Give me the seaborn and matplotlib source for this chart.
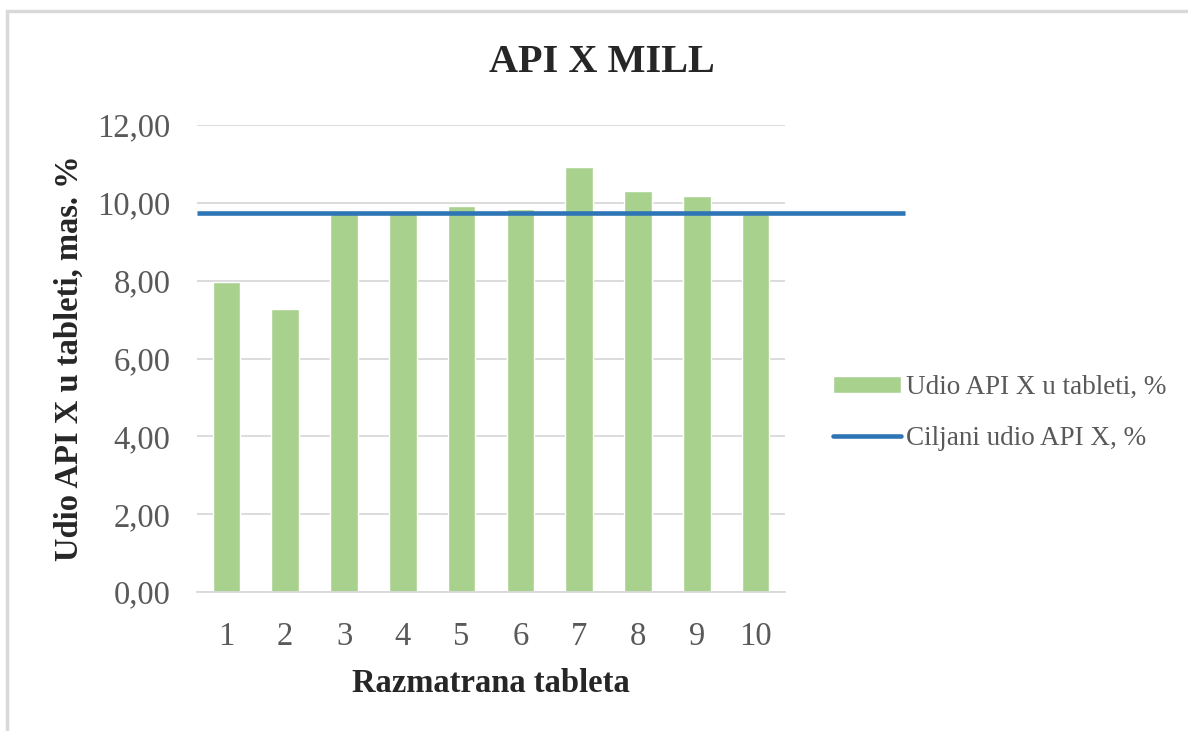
import numpy as np
import pandas as pd
import matplotlib
matplotlib.use('Agg')
import matplotlib.pyplot as plt
import seaborn as sns
from matplotlib.patches import Rectangle
from matplotlib.ticker import FuncFormatter

# data
tablets = ['1', '2', '3', '4', '5', '6', '7', '8', '9', '10']
api_content = [7.97, 7.27, 9.76, 9.74, 9.92, 9.85, 10.91, 10.30, 10.17, 9.71]
target_content = 9.73

bar_label = 'Udio API X u tableti, %'
line_label = 'Ciljani udio API X, %'

df = pd.DataFrame({'tableta': tablets, 'udio': api_content})

sns.set_style('white')
plt.rcParams['font.family'] = ['Liberation Serif', 'DejaVu Serif']

fig = plt.figure(figsize=(11.88, 7.31), dpi=100)
ax = fig.add_axes([197 / 1188, 1 - 592 / 731, 588 / 1188, 467 / 731])

sns.barplot(data=df, x='tableta', y='udio', color='#A9D18E', width=0.47,
            saturation=1, ax=ax, label=bar_label, zorder=2)

# target line runs past the plot area, like in the original
ax.axhline(target_content, xmin=0, xmax=(905 - 197) / 588, color='#2E75B6',
           lw=3.3, clip_on=False, zorder=3, label=line_label,
           solid_capstyle='butt')

ax.set_ylim(0, 12)
ax.set_xlim(-0.5, 9.5)
ax.set_yticks(np.arange(0, 12.1, 2))
ax.yaxis.set_major_formatter(FuncFormatter(lambda v, p: f'{v:.2f}'.replace('.', ',')))
ax.grid(axis='y', color='#D9D9D9', lw=1.3, zorder=0)
ax.set_axisbelow(True)
for s in ['top', 'right', 'left']:
    ax.spines[s].set_visible(False)
ax.spines['bottom'].set_color('#D9D9D9')
ax.spines['bottom'].set_linewidth(1.3)

ax.tick_params(axis='y', length=0, pad=19, labelsize=23.5, labelcolor='#595959')
ax.tick_params(axis='x', length=0, pad=21, labelsize=23.5, labelcolor='#595959')

ax.set_xlabel('Razmatrana tableta', fontsize=23.5, fontweight='bold', labelpad=12)
ax.set_ylabel('Udio API X u tableti, mas. %', fontsize=23.5, fontweight='bold', labelpad=9)
fig.text(602 / 1188, 1 - 62 / 731, 'API X MILL', fontsize=29, fontweight='bold',
         ha='center', va='center')

# bar first, line second
handles, labels = ax.get_legend_handles_labels()
order = [labels.index(bar_label), labels.index(line_label)]
leg = ax.legend([handles[i] for i in order], [labels[i] for i in order],
                loc='center left', bbox_to_anchor=(833 / 1188, 1 - 413 / 731),
                bbox_transform=fig.transFigure, frameon=False, fontsize=19.5,
                handlelength=2.5, handleheight=0.6, handletextpad=0.2,
                labelspacing=0.95, borderpad=0, borderaxespad=0)
for t in leg.get_texts():
    t.set_color('#595959')
for h in leg.get_lines():
    h.set_solid_capstyle('round')

# light border round the chart area
fig.add_artist(Rectangle((6.5 / 1188, -0.1), 1.2, 1.1 - 11 / 731, transform=fig.transFigure,
                         fill=False, edgecolor='#D9D9D9', lw=2.5))

fig.savefig('out.png', dpi=100)
